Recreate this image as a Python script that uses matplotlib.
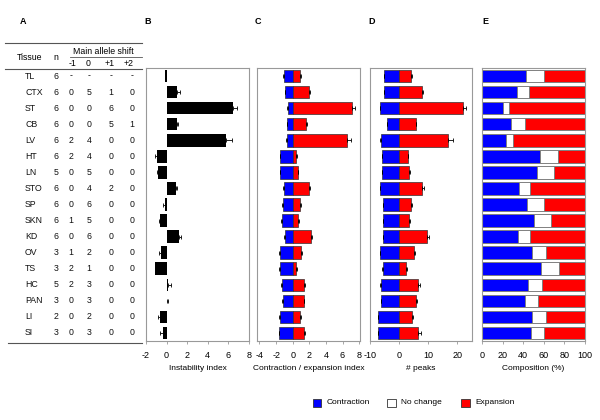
import numpy as np
import matplotlib
matplotlib.use("Agg")
import matplotlib.pyplot as plt
from matplotlib.patches import Rectangle
from matplotlib.lines import Line2D
from matplotlib.transforms import blended_transform_factory

plt.rcParams["font.family"] = ["Liberation Sans", "DejaVu Sans"]
plt.rcParams["font.size"] = 6
plt.rcParams["axes.unicode_minus"] = False

# --- data ---
tissues = ["TL", "CTX", "ST", "CB", "LV", "HT", "LN", "STO", "SP", "SKN",
           "KD", "OV", "TS", "HC", "PAN", "LI", "SI"]
n_animals = ["6", "6", "6", "6", "6", "6", "5", "6", "6", "6", "6", "3", "3", "5", "3", "2", "3"]
shift_m1 = ["-", "0", "0", "0", "2", "2", "0", "0", "0", "1", "0", "1", "2", "2", "0", "0", "0"]
shift_0 = ["-", "5", "0", "0", "4", "4", "5", "4", "6", "5", "6", "2", "1", "3", "3", "2", "3"]
shift_p1 = ["-", "1", "6", "5", "0", "0", "0", "2", "0", "0", "0", "0", "0", "0", "0", "0", "0"]
shift_p2 = ["-", "0", "0", "1", "0", "0", "0", "0", "0", "0", "0", "0", "0", "0", "0", "0", "0"]

instability = [-0.15, 1.05, 6.45, 1.05, 5.75, -0.98, -0.85, 0.88, -0.2, -0.6,
               1.24, -0.5, -1.08, 0.1, 0.08, -0.6, -0.33]
instability_err = [0.05, 0.25, 0.4, 0.05, 0.6, 0.1, 0.1, 0.15, 0.15, 0.1,
                   0.2, 0.2, 0.05, 0.3, 0.03, 0.25, 0.35]

ce_contr = [-1.09, -0.89, -0.6, -0.69, -0.73, -1.49, -1.49, -1.09, -1.2, -1.33,
            -0.97, -1.49, -1.49, -1.29, -1.2, -1.53, -1.61]
ce_contr_err = [0.05, 0.05, 0.05, 0.05, 0.05, 0.1, 0.1, 0.1, 0.1, 0.1,
                0.05, 0.12, 0.12, 0.12, 0.05, 0.12, 0.1]
ce_exp = [0.89, 1.9, 7.18, 1.61, 6.53, 0.44, 0.6, 1.98, 0.89, 0.65,
          2.2, 1.0, 0.44, 1.33, 1.33, 0.93, 1.33]
ce_exp_err = [0.05, 0.15, 0.36, 0.05, 0.5, 0.05, 0.05, 0.15, 0.05, 0.05,
              0.1, 0.12, 0.05, 0.15, 0.05, 0.1, 0.2]

peaks_contr = [-5.1, -5.1, -6.4, -4.2, -6.1, -5.8, -5.8, -6.5, -5.5, -5.4,
               -5.5, -6.4, -5.5, -6.2, -6.1, -7.1, -7.1]
peaks_contr_err = [0.1, 0.1, 0.3, 0.1, 0.3, 0.2, 0.2, 0.2, 0.2, 0.2,
                   0.1, 0.3, 0.3, 0.3, 0.1, 0.1, 0.1]
peaks_exp = [4.1, 7.9, 21.8, 5.8, 16.8, 3.0, 3.5, 8.0, 4.1, 3.5,
             9.5, 5.0, 2.5, 6.5, 5.9, 4.5, 6.5]
peaks_exp_err = [0.2, 0.4, 1.0, 0.1, 1.8, 0.1, 0.2, 0.4, 0.2, 0.2,
                 0.6, 0.3, 0.3, 0.6, 0.1, 0.4, 1.0]

comp_contr = [43, 34, 20, 28, 23, 56, 53, 36, 44, 50, 35, 49, 57, 45, 42, 49, 48]
comp_none = [17, 12, 6, 14, 7, 18, 17, 11, 16, 17, 12, 13, 18, 13, 12, 13, 12]
comp_exp = [40, 54, 74, 58, 70, 26, 30, 53, 40, 33, 53, 38, 25, 42, 46, 38, 40]

BLUE = "#0000ff"
RED = "#ff0000"
FRAME = "#999999"
W, H = 600, 420


def px(x, y):
    """pixel (from top-left) -> figure fraction"""
    return x / W, 1 - y / H


def make_ax(left, right, top=68, bottom=341):
    l, t = px(left, top)
    r, b = px(right, bottom)
    ax = fig.add_axes([l, b, r - l, t - b])
    for s in ax.spines.values():
        s.set_color(FRAME)
        s.set_linewidth(0.8)
    ax.set_yticks([])
    ax.set_ylim(len(tissues) - 0.5, -0.5)
    ax.tick_params(axis="x", length=2, width=0.6, color=FRAME, pad=5, labelsize=6.5)
    return ax


def one_sided(vals, errs):
    lo = [e if v < 0 else 0 for v, e in zip(vals, errs)]
    hi = [e if v >= 0 else 0 for v, e in zip(vals, errs)]
    return [lo, hi]


fig = plt.figure(figsize=(6, 4.2), dpi=100)
y = np.arange(len(tissues))
bh = 0.78
ekw = dict(fmt="none", ecolor="black", elinewidth=0.6, capsize=1.3, capthick=0.6)

# B: instability index
axB = make_ax(146, 249)
axB.barh(y, instability, height=bh, color="black")
axB.errorbar(instability, y, xerr=one_sided(instability, instability_err), **ekw)
axB.set_xlim(-2, 8)
axB.set_xticks([-2, 0, 2, 4, 6, 8])
axB.set_xlabel("Instability index", labelpad=4)

# C: contraction / expansion index
axC = make_ax(257, 360)
axC.barh(y, ce_contr, height=bh, color=BLUE, edgecolor="#333333", linewidth=0.5)
axC.barh(y, ce_exp, height=bh, color=RED, edgecolor="#333333", linewidth=0.5)
axC.errorbar(ce_contr, y, xerr=one_sided(ce_contr, ce_contr_err), **ekw)
axC.errorbar(ce_exp, y, xerr=one_sided(ce_exp, ce_exp_err), **ekw)
axC.set_xlim(-4.3, 8.1)
axC.set_xticks([-4, -2, 0, 2, 4, 6, 8])
axC.set_xlabel("Contraction / expansion index", labelpad=4)

# D: number of peaks
axD = make_ax(370, 472)
axD.barh(y, peaks_contr, height=bh, color=BLUE, edgecolor="#333333", linewidth=0.5)
axD.barh(y, peaks_exp, height=bh, color=RED, edgecolor="#333333", linewidth=0.5)
axD.errorbar(peaks_contr, y, xerr=one_sided(peaks_contr, peaks_contr_err), **ekw)
axD.errorbar(peaks_exp, y, xerr=one_sided(peaks_exp, peaks_exp_err), **ekw)
axD.set_xlim(-10, 25)
axD.set_xticks([-10, 0, 10, 20])
axD.set_xlabel("# peaks", labelpad=4)

# E: composition
axE = make_ax(482, 585)
left = np.zeros(len(tissues))
for vals, col in [(comp_contr, BLUE), (comp_none, "white"), (comp_exp, RED)]:
    axE.barh(y, vals, left=left, height=bh, color=col, edgecolor="#808080", linewidth=0.7)
    left = left + np.array(vals)
axE.set_xlim(0, 100)
axE.set_xticks([0, 20, 40, 60, 80, 100])
axE.set_xlabel("Composition (%)", labelpad=4)

# A: table
tr = blended_transform_factory(fig.transFigure, axB.transData)
cols = [(25, tissues, "left"), (56, n_animals, "center"), (71, shift_m1, "center"),
        (89, shift_0, "center"), (111, shift_p1, "center"), (132, shift_p2, "center")]
for xpix, vals, ha in cols:
    for i, v in enumerate(vals):
        fig.text(xpix / W, i, v, transform=tr, ha=ha, va="center", fontsize=6.3, color="#111111")

fs = 6.3
fig.text(*px(30, 57), "Tissue", ha="center", va="center", fontsize=fs)
fig.text(*px(56, 57), "n", ha="center", va="center", fontsize=fs)
fig.text(*px(103, 51), "Main allele shift", ha="center", va="center", fontsize=fs)
for xpix, lab in [(73, "-1"), (88, "0"), (110, "+1"), (129, "+2")]:
    fig.text(*px(xpix, 63), lab, ha="center", va="center", fontsize=fs)


def hline(x0, x1, ypix, lw=0.8):
    (a, b), (c, _) = px(x0, ypix), px(x1, ypix)
    fig.add_artist(Line2D([a, c], [b, b], color="#555555", lw=lw, transform=fig.transFigure))


hline(5, 142, 43)
hline(70, 142, 57, lw=0.6)
hline(5, 142, 69)
hline(8, 142, 343)

# panel letters
for xpix, lab in [(23, "A"), (148, "B"), (258, "C"), (372, "D"), (485, "E")]:
    fig.text(*px(xpix, 22), lab, ha="center", va="center", fontsize=6.5, fontweight="bold")

# legend
for sq, txt, col in [(313, "Contraction", BLUE), (387, "No change", "white"), (461, "Expansion", RED)]:
    x0, y0 = px(sq, 407)
    fig.add_artist(Rectangle((x0, y0), 8.5 / W, 8.5 / H, transform=fig.transFigure,
                             facecolor=col, edgecolor="#333333", linewidth=0.6))
    fig.text(*px(sq + 14, 403), txt, ha="left", va="center", fontsize=6)

fig.savefig("out.png", dpi=100)
